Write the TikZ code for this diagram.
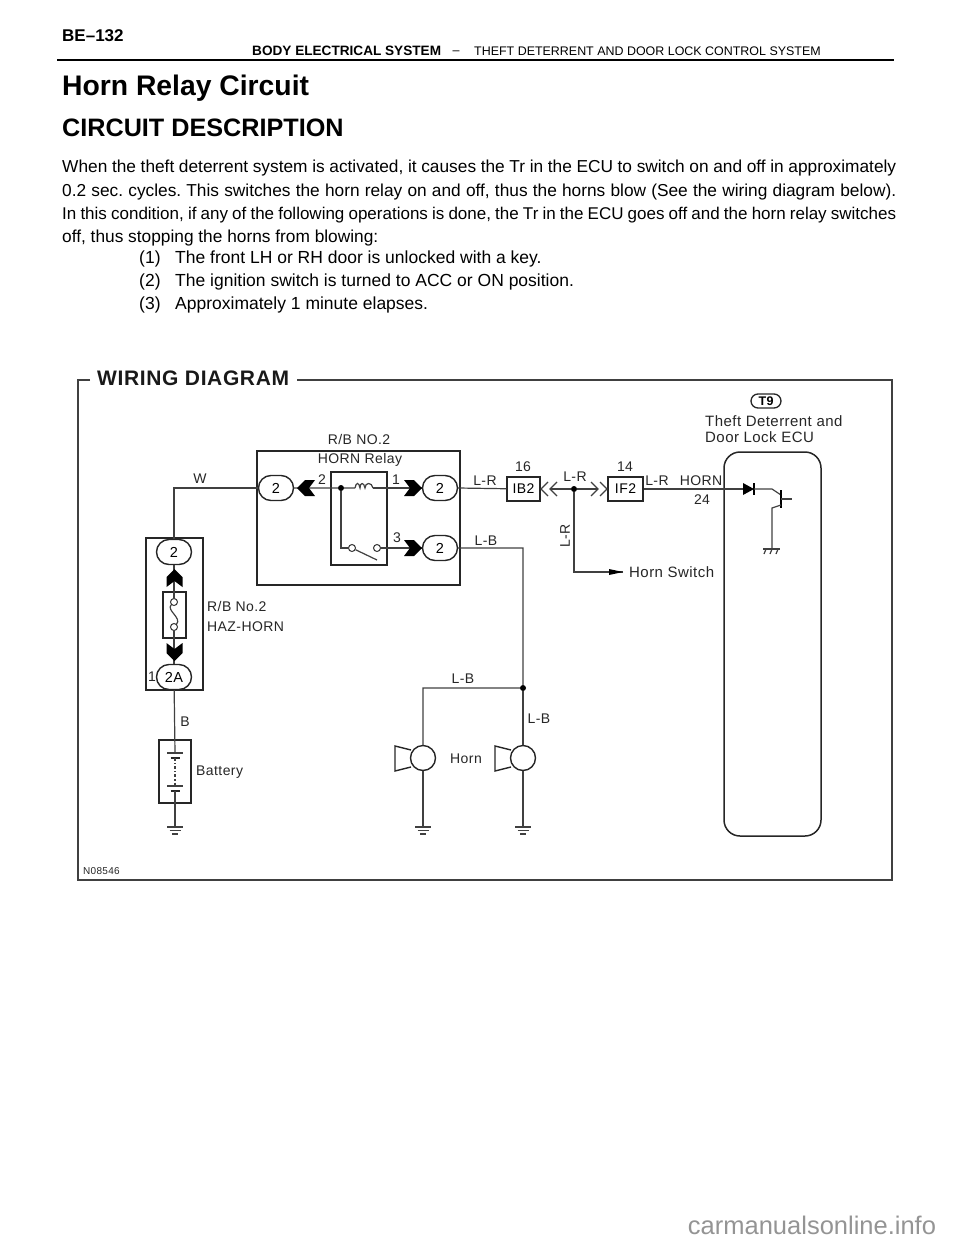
\documentclass[tikz,border=0pt]{standalone}
\usepackage{fontspec}
\usetikzlibrary{shapes.misc}
\setmainfont{Liberation Sans}
\newfontfamily\diagfont[LetterSpace=3]{Liberation Sans}
\tikzset{
wire/.style={line width=1.2pt,black!75},
box/.style={draw=black!85,line width=1.5pt,inner sep=0pt},
plug/.style={draw=black!85,line width=1.4pt,rounded rectangle,minimum width=35pt,minimum height=25pt,inner sep=0pt,font=\diagfont\fontsize{14.5}{15}\selectfont},
lbl/.style={inner sep=0pt,black!85,font=\diagfont\fontsize{14}{15}\selectfont},
dot/.style={circle,fill=black,inner sep=0pt,minimum size=6pt},
term/.style={circle,draw=black!80,fill=white,line width=1pt,inner sep=0pt,minimum size=7pt},
mate/.pic={\fill[black] (-9,-8) -- (1,-8) -- (9,0) -- (1,8) -- (-9,8) -- (-3,0) -- cycle;},
earth/.pic={\draw[wire] (-8,0) -- (8,0) (-5.5,3.5) -- (5.5,3.5) (-3,7) -- (3,7);},
}
\begin{document}
\frenchspacing
\begin{tikzpicture}[x=1pt,y=-1pt]
\useasboundingbox (0,0) rectangle (960,1242);
% page text
\node[anchor=west,inner sep=0pt,font=\bfseries\fontsize{17}{17}\selectfont] (page) at (62,36) {BE--132};
\node[anchor=west,inner sep=0pt,font=\bfseries\fontsize{13.6}{14}\selectfont] (sys) at (252,51) {BODY ELECTRICAL SYSTEM};
\node[anchor=center,inner sep=0pt,font=\fontsize{12.5}{13}\selectfont] (dash) at (456,53) {--};
\node[anchor=west,inner sep=0pt,font=\fontsize{12.45}{13}\selectfont] (subsys) at (474,51) {THEFT DETERRENT AND DOOR LOCK CONTROL SYSTEM};
\coordinate (ruleL) at (57,60);
\coordinate (ruleR) at (894,60);
\draw[line width=1.5pt] (ruleL) -- (ruleR);
\node[anchor=west,inner sep=0pt,font=\bfseries\fontsize{28.3}{28}\selectfont] (title) at (62,88) {Horn Relay Circuit};
\node[anchor=west,inner sep=0pt,font=\bfseries\fontsize{25.2}{25}\selectfont] (head) at (62,128) {CIRCUIT DESCRIPTION};
\node[anchor=north west,inner sep=0pt,text width=834pt,align=justify,font=\fontsize{17.3}{23.4}\selectfont] (para) at (62,160) {When the theft deterrent system is activated, it causes the Tr in the ECU to switch on and off in approximately\linebreak 0.2 sec. cycles. This switches the horn relay on and off, thus the horns blow (See the wiring diagram below).\linebreak {\fontsize{17}{23.4}\selectfont In this condition, if any of the following operations is done, the Tr in the ECU goes off and the horn relay switches}\linebreak off, thus stopping the horns from blowing:};
\foreach \n/\y/\t in {1/259/The front LH or RH door is unlocked with a key.,2/282/The ignition switch is turned to ACC or ON position.,3/305/Approximately 1 minute elapses.}{
\node[anchor=west,inner sep=0pt,font=\fontsize{17.5}{18}\selectfont] (num\n) at (139,\y) {(\n)};
\node[anchor=west,inner sep=0pt,font=\fontsize{17.5}{18}\selectfont] (item\n) at (175,\y) {\t};
}
\node[anchor=center,inner sep=0pt,text=black!42,font=\fontsize{25.5}{26}\selectfont] (site) at (812,1225) {carmanualsonline.info};
% frame
\node[anchor=west,inner sep=0pt,black!90,font=\diagfont\bfseries\fontsize{21}{21}\selectfont] (wd) at (97,378) {WIRING DIAGRAM};
\coordinate (fa) at (90,380);
\coordinate (fb) at (78,380);
\coordinate (fc) at (78,880);
\coordinate (fd) at (892,880);
\coordinate (fe) at (892,380);
\coordinate (ff) at (297,380);
\draw[line width=1.4pt,black!75] (fa) -- (fb) -- (fc) -- (fd) -- (fe) -- (ff);
\node[lbl,anchor=west,font=\diagfont\fontsize{10}{10}\selectfont] (code) at (83,871) {N08546};
% R/B No.2 box and relay
\node[box,minimum width=203pt,minimum height=134pt] (rb) at (358.5,518) {};
\node[box,minimum width=56pt,minimum height=93pt] (relay) at (359,518.5) {};
\node[lbl] (rbname) at (359,439) {R/B NO.2};
\node[lbl] (rlname) at (360,460) {HORN Relay};
\node[plug,fill=white] (pW) at (276,488) {2};
\node[plug,fill=white] (pA) at (440,488) {2};
\node[plug,fill=white] (pB) at (440,548) {2};
\node[dot] (jr) at (341,488) {};
\coordinate (coilL) at (355,488);
\coordinate (coilR) at (373,488);
\node[term] (sw1) at (352,548) {};
\node[term] (sw2) at (377,548) {};
\coordinate (blade) at (377,560);
\coordinate (swc) at (341,548);
\draw[wire] (pW) -- (jr) -- (coilL);
\draw[wire] (coilL) .. controls (356,482) and (359,482) .. (360,488) .. controls (360,482) and (364,482) .. (365,488) .. controls (365,482) and (372,482) .. (coilR);
\draw[wire] (coilR) -- (pA);
\draw[wire] (jr) -- (swc) -- (sw1);
\draw[wire] (sw1) -- (blade);
\draw[wire] (sw2) -- (pB);
\pic[rotate=180] at (306,488) {mate};
\pic at (413,488) {mate};
\pic at (413,548) {mate};
\node[lbl] (n2) at (322,480) {2};
\node[lbl] (n1) at (396,480) {1};
\node[lbl] (n3) at (397,538) {3};
% fuse block
\node[box,minimum width=57pt,minimum height=152pt] (fb1) at (174.5,614) {};
\node[plug] (pT) at (174,552) {2};
\node[plug,fill=white] (p2A) at (174,677) {2A};
\node[box,minimum width=23pt,minimum height=46pt] (fuse) at (174.5,615) {};
\node[term] (fu1) at (174,602) {};
\node[term] (fu2) at (174,627) {};
\draw[wire] (pT) -- (fu1);
\draw[wire] (fu1) .. controls (166,610) and (182,618) .. (fu2);
\draw[wire] (fu2) -- (p2A);
\pic[rotate=90] at (174.5,578) {mate};
\pic[rotate=-90] at (174.5,652) {mate};
\node[lbl,anchor=west] (fu3) at (207,606) {R/B No.2};
\node[lbl,anchor=west] (fu4) at (207,627) {HAZ-HORN};
\node[lbl] (n1b) at (152,677) {1};
\coordinate (cW) at (174,488);
\node[lbl] (lW) at (200,479) {W};
\draw[wire] (pW) -- (cW) -- (pT);
% battery
\node[box,minimum width=32pt,minimum height=63pt] (bat) at (175,771.5) {};
\node[lbl] (lB) at (185,722) {B};
\node[lbl,anchor=west] (lbat) at (196,772) {Battery};
\coordinate (bp1) at (175,753);
\coordinate (bp2) at (175,758);
\coordinate (bp3) at (175,786);
\coordinate (bp4) at (175,791);
\coordinate (gnd1) at (175,827);
\draw[wire] (p2A) -- (bp1);
\draw[wire] ([xshift=-8pt]bp1) -- ([xshift=8pt]bp1);
\draw[line width=1.6pt,black!85] ([xshift=-4.5pt]bp2) -- ([xshift=4.5pt]bp2);
\draw[wire,dash dot] (bp2) -- (bp3);
\draw[wire] ([xshift=-8pt]bp3) -- ([xshift=8pt]bp3);
\draw[line width=1.6pt,black!85] ([xshift=-4.5pt]bp4) -- ([xshift=4.5pt]bp4);
\draw[wire] (bp4) -- (gnd1);
\pic at (gnd1) {earth};
% L-R line
\node[box,minimum width=33pt,minimum height=24pt,font=\diagfont\fontsize{14}{15}\selectfont] (ib2) at (523.5,489) {IB2};
\node[box,minimum width=35pt,minimum height=24pt,font=\diagfont\fontsize{14}{15}\selectfont] (if2) at (625.5,489) {IF2};
\node[dot] (jl) at (574,489) {};
\draw[wire] (pA.east) -- (ib2);
\coordinate (ca) at (550,489);
\coordinate (cb) at (598,489);
\draw[wire] (ca) -- (jl) -- (cb);
\draw[wire] (548,482) -- (541,489) -- (548,496) (557,482) -- (550,489) -- (557,496);
\draw[wire] (591,482) -- (598,489) -- (591,496) (600,482) -- (607,489) -- (600,496);
\node[lbl] (l1) at (485,481) {L-R};
\node[lbl] (l2) at (575,477) {L-R};
\node[lbl] (l3) at (657,481) {L-R};
\node[lbl,rotate=90] (l4) at (565,536) {L-R};
\node[lbl] (n16) at (523,467) {16};
\node[lbl] (n14) at (625,467) {14};
\node[lbl] (lhorn) at (701,481) {HORN};
\node[lbl] (n24) at (702,500) {24};
\node[lbl,anchor=west,font=\diagfont\fontsize{15}{15}\selectfont] (lsw) at (629,572) {Horn Switch};
\coordinate (cS) at (574,572);
\coordinate (aS) at (623,572);
\draw[wire] (jl) -- (cS) -- (aS);
\fill[black] (609,569) -- (623,572) -- (609,575) -- cycle;
% L-B line and horns
\node[lbl] (l5) at (486,541) {L-B};
\node[lbl] (l6) at (463,679) {L-B};
\node[lbl] (l7) at (539,719) {L-B};
\node[lbl] (lh) at (466,759) {Horn};
\node[dot] (jb) at (523,688) {};
\coordinate (cB) at (523,548);
\coordinate (cH) at (423,688);
\node[circle,draw=black!85,line width=1.4pt,minimum size=25pt,inner sep=0pt] (h1) at (423,758) {};
\node[circle,draw=black!85,line width=1.4pt,minimum size=25pt,inner sep=0pt] (h2) at (523,758) {};
\draw[wire] (pB) -- (cB) -- (jb) -- (cH) -- (h1);
\draw[wire] (jb) -- (h2);
\draw[line width=1.4pt,black!85] (411,750) -- (395,746) -- (395,771) -- (411,767);
\draw[line width=1.4pt,black!85] (511,750) -- (495,746) -- (495,771) -- (511,767);
\coordinate (gnd2) at (423,827);
\coordinate (gnd3) at (523,827);
\draw[wire] (h1) -- (gnd2);
\draw[wire] (h2) -- (gnd3);
\pic at (gnd2) {earth};
\pic at (gnd3) {earth};
% ECU
\node[draw=black!85,line width=1.5pt,rounded corners=16pt,minimum width=97pt,minimum height=384pt,inner sep=0pt] (ecu) at (772.5,644) {};
\node[draw=black!85,line width=1.3pt,rounded rectangle,minimum width=30pt,minimum height=14pt,inner sep=0pt,font=\diagfont\bfseries\fontsize{12.5}{13}\selectfont] (t9) at (766,401) {T9};
\node[lbl,anchor=west,font=\diagfont\fontsize{15}{15}\selectfont] (e1) at (705,421) {Theft Deterrent and};
\node[lbl,anchor=west,font=\diagfont\fontsize{15}{15}\selectfont] (e2) at (705,437) {Door Lock ECU};
\coordinate (da) at (743,489);
\coordinate (db) at (754,489);
\coordinate (tc) at (772,489);
\coordinate (td) at (781,495);
\coordinate (te) at (781,505);
\coordinate (tf) at (772,508);
\coordinate (gnd4) at (772,549);
\draw[wire] (if2) -- (da);
\fill[black] (743,483) -- (db) -- (743,495) -- cycle;
\draw[line width=1.3pt] (754,483) -- (754,495);
\draw[wire] (db) -- (tc) -- (td);
\draw[line width=1.8pt] (781,490) -- (781,508);
\draw[wire] (781,499) -- (792,499);
\draw[wire] (te) -- (tf) -- (gnd4);
\draw[wire] (763,549) -- (780,549);
\draw[wire] (766,549) -- (764,554) (772,549) -- (770,554) (778,549) -- (776,554);
\end{tikzpicture}
\end{document}
